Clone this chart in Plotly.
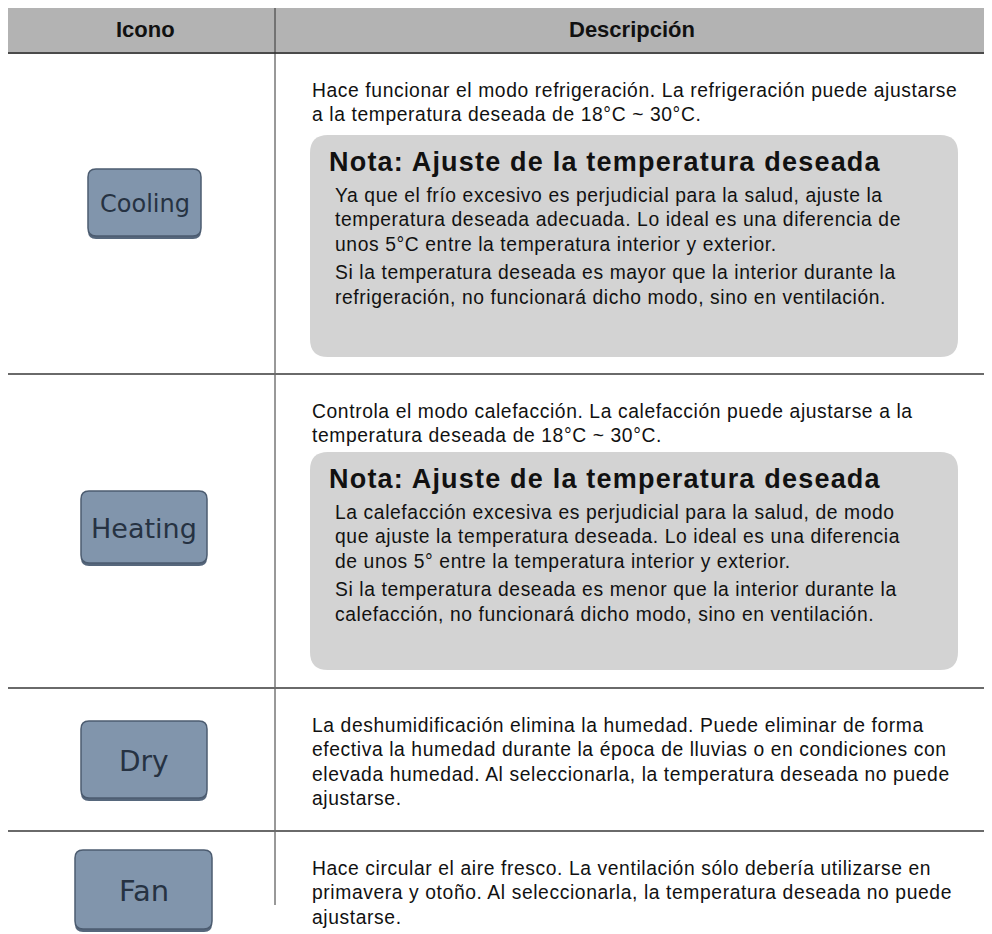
import plotly.graph_objects as go

# ---------------- data ----------------
header_labels = ["Icono", "Descripción"]
icon_labels = ["Cooling", "Heating", "Dry", "Fan"]
description_lines = [
    ["Hace funcionar el modo refrigeración. La refrigeración puede ajustarse",
     "a la temperatura deseada de 18°C ~ 30°C."],
    ["Controla el modo calefacción. La calefacción puede ajustarse a la",
     "temperatura deseada de 18°C ~ 30°C."],
    ["La deshumidificación elimina la humedad. Puede eliminar de forma",
     "efectiva la humedad durante la época de lluvias o en condiciones con",
     "elevada humedad. Al seleccionarla, la temperatura deseada no puede",
     "ajustarse."],
    ["Hace circular el aire fresco. La ventilación sólo debería utilizarse en",
     "primavera y otoño. Al seleccionarla, la temperatura deseada no puede",
     "ajustarse."],
]
note_titles = ["Nota: Ajuste de la temperatura deseada",
               "Nota: Ajuste de la temperatura deseada", None, None]
note_paragraphs = [
    [["Ya que el frío excesivo es perjudicial para la salud, ajuste la",
      "temperatura deseada adecuada. Lo ideal es una diferencia de",
      "unos 5°C entre la temperatura interior y exterior."],
     ["Si la temperatura deseada es mayor que la interior durante la",
      "refrigeración, no funcionará dicho modo, sino en ventilación."]],
    [["La calefacción excesiva es perjudicial para la salud, de modo",
      "que ajuste la temperatura deseada. Lo ideal es una diferencia",
      "de unos 5° entre la temperatura interior y exterior."],
     ["Si la temperatura deseada es menor que la interior durante la",
      "calefacción, no funcionará dicho modo, sino en ventilación."]],
    None, None,
]

# ---------------- layout geometry ----------------
W, H = 992, 934
OFF = 8  # page body margin
FONT = "Liberation Sans, Arial, Helvetica, sans-serif"
header_top, header_bot = 4, 53
divider_x = 275
row_bottoms = [374, 688, 831, 905]
row_tops = [header_bot] + row_bottoms[:-1]
buttons = [(88, 169, 201, 239), (81, 491, 207, 566), (81, 721, 207, 801), (75, 850, 212, 932)]
button_font = [24, 27, 28, 29]
note_boxes = [(310, 135, 958, 357), (310, 452, 958, 670)]
text_x = 310
line_h = 24.5
BODY_SIZE = 19.3
BODY_TRACK = 0.6


def tracked(s, px):
    return f'<span style="letter-spacing:{px}px">{s}</span>'


def rrect(x0, y0, x1, y1, r):
    return (f"M{x0+r},{y0} L{x1-r},{y0} Q{x1},{y0} {x1},{y0+r} "
            f"L{x1},{y1-r} Q{x1},{y1} {x1-r},{y1} L{x0+r},{y1} "
            f"Q{x0},{y1} {x0},{y1-r} L{x0},{y0+r} Q{x0},{y0} {x0+r},{y0} Z")


shapes = []
annotations = []

# header band
shapes.append(dict(type="rect", x0=3, x1=990, y0=header_top, y1=header_bot,
                   fillcolor="#b3b3b3", line=dict(width=0), layer="below"))
shapes.append(dict(type="line", x0=3, x1=990, y0=header_bot, y1=header_bot,
                   line=dict(color="#4a4a4a", width=2)))
for lab, cx in zip(header_labels, [145, 632]):
    annotations.append(dict(x=cx, y=(header_top + header_bot) / 2 + 1, text=f"<b>{lab}</b>",
                            showarrow=False, xanchor="center", yanchor="middle",
                            font=dict(family="Liberation Sans Narrow, Arial Narrow, sans-serif",
                                      size=22, color="#111111")))

# vertical divider
shapes.append(dict(type="line", x0=divider_x, x1=divider_x, y0=header_top, y1=row_bottoms[-1],
                   line=dict(color="#333333", width=1)))

# row lines
for yb in row_bottoms[:-1]:
    shapes.append(dict(type="line", x0=5, x1=990, y0=yb, y1=yb,
                       line=dict(color="#6a6a6a", width=2)))

for i in range(len(icon_labels)):
    top = row_tops[i]
    # button
    bx0, by0, bx1, by1 = buttons[i]
    shapes.append(dict(type="path", path=rrect(bx0, by0 + 2, bx1, by1, 8),
                       fillcolor="#56677c", line=dict(width=0)))
    shapes.append(dict(type="path", path=rrect(bx0, by0, bx1, by1 - 3, 8),
                       fillcolor="#8195ac", line=dict(color="#4c5c70", width=1.5)))
    annotations.append(dict(x=(bx0 + bx1) / 2, y=(by0 + by1) / 2, text=icon_labels[i],
                            showarrow=False, xanchor="center", yanchor="middle",
                            font=dict(family="DejaVu Sans, Verdana, sans-serif",
                                      size=button_font[i], color="#263242")))
    # description
    y = top + 37
    for ln in description_lines[i]:
        annotations.append(dict(x=text_x, y=y, text=tracked(ln, BODY_TRACK), showarrow=False,
                                xanchor="left", yanchor="middle",
                                font=dict(family=FONT, size=BODY_SIZE, color="#111111")))
        y += line_h
    # note
    if note_titles[i]:
        nx0, ny0, nx1, ny1 = note_boxes[i]
        shapes.append(dict(type="path", path=rrect(nx0, ny0, nx1, ny1, 18),
                           fillcolor="#d3d3d3", line=dict(width=0), layer="below"))
        annotations.append(dict(x=nx0 + 17, y=ny0 + 27,
                                text=tracked(f"<b>{note_titles[i]}</b>", 1.2),
                                showarrow=False, xanchor="left", yanchor="middle",
                                font=dict(family=FONT, size=27, color="#111111")))
        y = ny0 + 60
        for p, para in enumerate(note_paragraphs[i]):
            if p > 0:
                y += 4
            for ln in para:
                annotations.append(dict(x=nx0 + 23, y=y, text=tracked(ln, BODY_TRACK),
                                        showarrow=False, xanchor="left", yanchor="middle",
                                        font=dict(family=FONT, size=BODY_SIZE, color="#111111")))
                y += line_h

fig = go.Figure()
fig.update_layout(
    width=W - OFF, height=H - OFF, margin=dict(l=0, r=0, t=0, b=0),
    paper_bgcolor="white", plot_bgcolor="white",
    xaxis=dict(range=[OFF, W], visible=False, fixedrange=True),
    yaxis=dict(range=[H, OFF], visible=False, fixedrange=True),
    shapes=shapes, annotations=annotations, showlegend=False,
)
fig.write_html("out.html")
